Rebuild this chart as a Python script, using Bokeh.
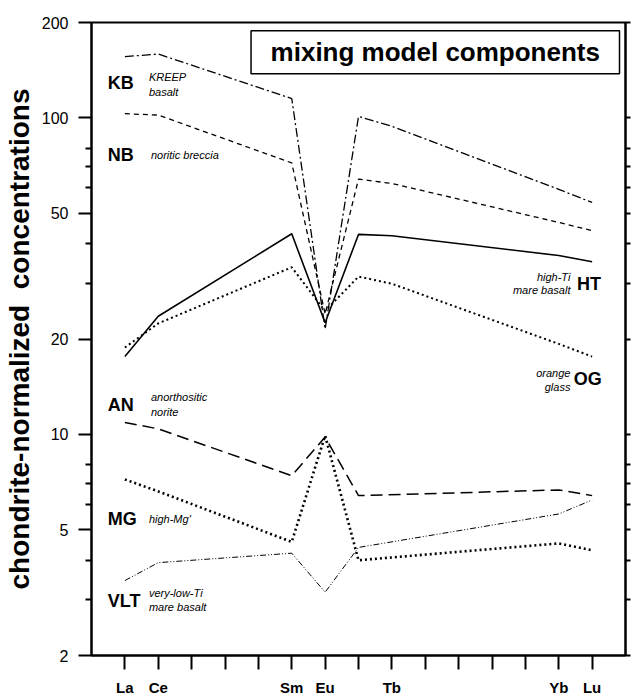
from bokeh.plotting import figure
from bokeh.models import (Range1d, FixedTicker, NumeralTickFormatter, LogAxis,
                          Label, BoxAnnotation, ColumnDataSource)
from bokeh.embed import file_html
from bokeh.resources import INLINE

# ---------------- data ----------------
elements = ["La", "Ce", "Pr", "Nd", "Pm", "Sm", "Eu", "Gd", "Tb",
            "Dy", "Ho", "Er", "Tm", "Yb", "Lu"]
tick_labels = ["La", "Ce", "", "", "", "Sm", "Eu", "", "Tb",
               "", "", "", "", "Yb", "Lu"]

upper_els = ["La", "Ce", "Sm", "Eu", "Gd", "Tb", "Yb", "Lu"]
kb = [156, 159, 115, 21.5, 101, 94, 59.4, 54]      # KREEP basalt
nb = [103, 102, 72, 24, 64, 62, 46.7, 44]          # noritic breccia
ht = [17.6, 23.6, 43, 22.5, 42.8, 42.4, 36.7, 35.1]  # high-Ti mare basalt
og = [18.8, 22.4, 33.7, 24.5, 31.5, 29.9, 19.3, 17.6]  # orange glass

lower_els = ["La", "Ce", "Sm", "Eu", "Gd", "Yb", "Lu"]
an = [10.9, 10.4, 7.4, 9.8, 6.4, 6.67, 6.4]       # anorthositic norite
mg = [7.2, 6.6, 4.57, 9.9, 4.0, 4.52, 4.3]        # high-Mg'
vlt = [3.45, 3.93, 4.21, 3.17, 4.39, 5.6, 6.2]    # very-low-Ti mare basalt

y_major = [2, 5, 10, 20, 50, 100, 200]
y_minor = [3, 4, 6, 7, 8, 30, 40, 60, 70, 80]

FONT = "Liberation Sans"

def idx(els):
    return [elements.index(e) for e in els]

p = figure(width=631, height=698, x_range=Range1d(-1, 15), y_range=Range1d(2, 200),
           y_axis_type="log", output_backend="svg", toolbar_location=None,
           min_border_left=91, min_border_right=6, min_border_top=22, min_border_bottom=43)
p.background_fill_color = "white"
p.border_fill_color = "white"
p.xgrid.grid_line_color = None
p.ygrid.grid_line_color = None
p.outline_line_color = "black"
p.outline_line_width = 2

# x axis
xa = p.xaxis[0]
xa.ticker = FixedTicker(ticks=list(range(len(elements))))
xa.major_label_overrides = {i: t for i, t in enumerate(tick_labels)}
xa.major_tick_in = 0
xa.major_tick_out = 14
xa.minor_tick_out = 0
xa.minor_tick_in = 0
xa.axis_line_width = 2
xa.major_tick_line_width = 2
xa.major_label_standoff = 9
xa.major_label_text_font = FONT
xa.major_label_text_font_style = "bold"
xa.major_label_text_font_size = "15px"
xa.major_label_text_color = "black"

# y axis
ya = p.yaxis[0]
ya.ticker = FixedTicker(ticks=y_major, minor_ticks=y_minor)
ya.formatter = NumeralTickFormatter(format="0")
ya.major_tick_in = 0
ya.major_tick_out = 13
ya.minor_tick_in = 0
ya.minor_tick_out = 6
ya.axis_line_width = 2
ya.major_tick_line_width = 2
ya.minor_tick_line_width = 2
ya.major_label_standoff = 10
ya.major_label_text_font = FONT
ya.major_label_text_font_size = "16px"
ya.major_label_text_color = "black"
ya.axis_label = "chondrite-normalized\u00a0 concentrations"
ya.axis_label_text_font = FONT
ya.axis_label_text_font_style = "bold"
ya.axis_label_text_font_size = "28px"
ya.axis_label_text_color = "black"
ya.axis_label_standoff = 4

ra = LogAxis(ticker=FixedTicker(ticks=y_major, minor_ticks=y_minor),
             major_label_overrides={v: "" for v in y_major},
             major_label_standoff=0,
             major_tick_in=0, major_tick_out=5, minor_tick_in=0, minor_tick_out=5,
             axis_line_width=2, major_tick_line_width=2, minor_tick_line_width=2)
p.add_layout(ra, "right")

# ---------------- series ----------------
def series(els, vals, dash, width):
    src = ColumnDataSource(dict(x=idx(els), y=vals))
    p.line("x", "y", source=src, line_color="black", line_dash=dash, line_width=width)

series(upper_els, kb, "9 3 2 3", 1.3)
series(upper_els, nb, "5 4", 1.3)
series(upper_els, ht, "solid", 1.6)
series(upper_els, og, "2 3", 2)
series(lower_els, an, "12 6", 1.5)
series(lower_els, mg, "2 3", 2.6)
series(lower_els, vlt, "6 2 1 2 1 2", 1)

# ---------------- title box ----------------
p.add_layout(BoxAnnotation(left=3.78, right=14.82, bottom=137.8, top=188.4,
                           fill_color="white", fill_alpha=1,
                           line_color="black", line_width=1.5, line_alpha=1))
p.add_layout(Label(x=9.3, y=161, text="mixing model components", text_font=FONT,
                   text_font_style="bold", text_font_size="26px", text_align="center",
                   text_baseline="middle", text_color="black"))

# ---------------- series labels ----------------
def big(x, y, t, align="left"):
    p.add_layout(Label(x=x, y=y, text=t, text_font=FONT, text_font_style="bold",
                       text_font_size="18px", text_align=align, text_baseline="middle",
                       text_color="black"))

def small(x, y, t, align="left"):
    p.add_layout(Label(x=x, y=y, text=t, text_font=FONT, text_font_style="italic",
                       text_font_size="11px", text_align=align, text_baseline="middle",
                       text_color="black"))

big(-0.51, 129, "KB"); small(0.72, 135, "KREEP"); small(0.72, 121, "basalt")
big(-0.51, 76.5, "NB"); small(0.78, 76.5, "noritic breccia")
big(-0.51, 12.4, "AN"); small(0.78, 13.1, "anorthositic"); small(0.78, 11.8, "norite")
big(-0.51, 5.38, "MG"); small(0.72, 5.38, "high-Mg'")
big(-0.51, 2.98, "VLT"); small(0.72, 3.14, "very-low-Ti"); small(0.72, 2.84, "mare basalt")
big(13.55, 29.9, "HT"); small(13.35, 31.5, "high-Ti", "right"); small(13.35, 28.5, "mare basalt", "right")
big(13.45, 14.9, "OG"); small(13.35, 15.6, "orange", "right"); small(13.35, 14.1, "glass", "right")

open("out.html", "w").write(file_html(p, INLINE))
